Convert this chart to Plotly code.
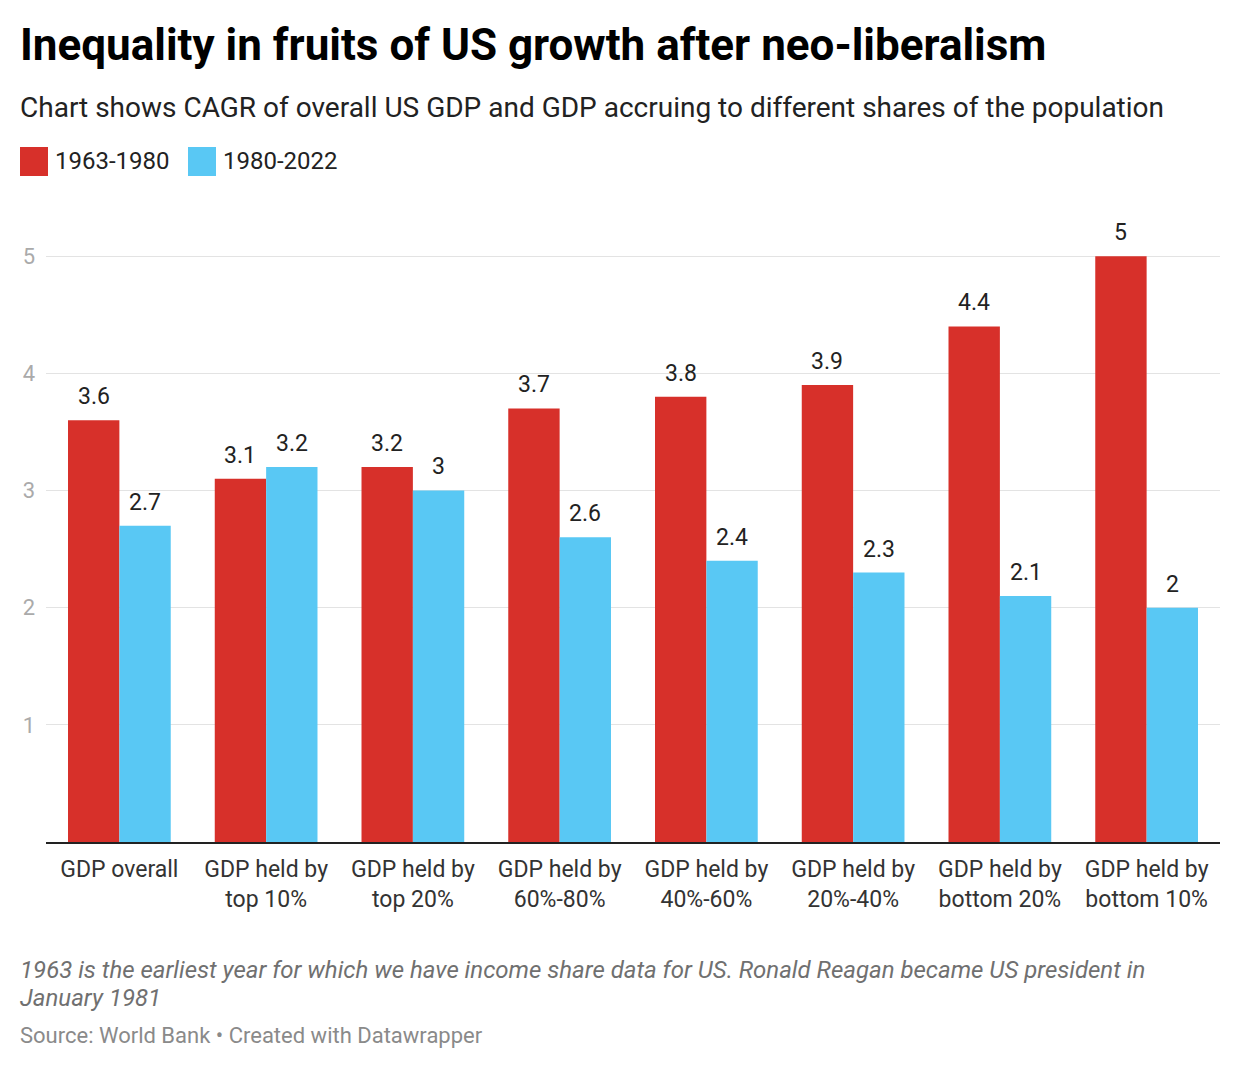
import plotly.graph_objects as go

categories = ["GDP overall", "GDP held by<br>top 10%", "GDP held by<br>top 20%", "GDP held by<br>60%-80%",
              "GDP held by<br>40%-60%", "GDP held by<br>20%-40%", "GDP held by<br>bottom 20%", "GDP held by<br>bottom 10%"]
series_names = ["1963-1980", "1980-2022"]
values_1963_1980 = [3.6, 3.1, 3.2, 3.7, 3.8, 3.9, 4.4, 5.0]
values_1980_2022 = [2.7, 3.2, 3.0, 2.6, 2.4, 2.3, 2.1, 2.0]
y_ticks = [1, 2, 3, 4, 5]

RED = "#d7302a"
BLUE = "#59c8f4"
FONT = "Roboto"

W, H = 1240, 1068
L, R, T, B = 46, 20, 221, 226
PW, PH = W - L - R, H - T - B


def px(xp):
    return (xp - L) / PW


def py(yp):
    return (H - B - yp) / PH


def fmt(v):
    return ("%g" % v)


fig = go.Figure()
fig.add_trace(go.Bar(x=categories, y=values_1963_1980, name=series_names[0], marker_color=RED,
                     marker_line_width=0, showlegend=False))
fig.add_trace(go.Bar(x=categories, y=values_1980_2022, name=series_names[1], marker_color=BLUE,
                     marker_line_width=0, showlegend=False))

annotations = []
half = PW / len(categories) * 0.7 / 4
for c, v in zip(categories, values_1963_1980):
    annotations.append(dict(x=c, y=v, xref="x", yref="y", text=fmt(v), showarrow=False,
                            xshift=-half, yshift=8, yanchor="bottom",
                            font=dict(family=FONT, size=23, color="#222")))
for c, v in zip(categories, values_1980_2022):
    annotations.append(dict(x=c, y=v, xref="x", yref="y", text=fmt(v), showarrow=False,
                            xshift=half, yshift=8, yanchor="bottom",
                            font=dict(family=FONT, size=23, color="#222")))

# Title, subtitle
annotations.append(dict(x=px(18), y=py(45), xref="paper", yref="paper", xanchor="left", yanchor="middle",
                        text="<b>Inequality in fruits of US growth after neo-liberalism</b>", showarrow=False,
                        font=dict(family=FONT, size=44, color="#000")))
annotations.append(dict(x=px(18), y=py(107), xref="paper", yref="paper", xanchor="left", yanchor="middle",
                        text="Chart shows CAGR of overall US GDP and GDP accruing to different shares of the population",
                        showarrow=False, font=dict(family=FONT, size=28, color="#222")))
# Legend
shapes = []
for i, (name, col, sx) in enumerate([(series_names[0], RED, 20), (series_names[1], BLUE, 188)]):
    shapes.append(dict(type="rect", xref="paper", yref="paper", x0=px(sx), x1=px(sx + 28),
                       y0=py(176), y1=py(147), fillcolor=col, line_width=0))
    annotations.append(dict(x=px(sx + 33), y=py(161), xref="paper", yref="paper", xanchor="left",
                            yanchor="middle", text=name, showarrow=False,
                            font=dict(family=FONT, size=24, color="#222")))
# Notes
note_lines = ["1963 is the earliest year for which we have income share data for US. Ronald Reagan became US president in",
              "January 1981"]
for line, yc in zip(note_lines, [970, 998]):
    annotations.append(dict(x=px(18), y=py(yc), xref="paper", yref="paper", xanchor="left", yanchor="middle",
                            text="<i>" + line + "</i>", showarrow=False,
                            font=dict(family=FONT, size=24, color="#707070")))
annotations.append(dict(x=px(18), y=py(1035), xref="paper", yref="paper", xanchor="left", yanchor="middle",
                        text="Source: World Bank • Created with Datawrapper", showarrow=False,
                        font=dict(family=FONT, size=22, color="#8a8a8a")))

fig.update_layout(
    width=W, height=H,
    margin=dict(l=L, r=R, t=T, b=B, autoexpand=False),
    paper_bgcolor="white", plot_bgcolor="white",
    barmode="group", bargap=0.3, bargroupgap=0,
    annotations=annotations, shapes=shapes,
    font=dict(family=FONT),
    xaxis=dict(type="category", range=[-0.5, len(categories) - 0.5], showgrid=False,
               showline=True, linecolor="#222", linewidth=2, ticks="", ticklabelstandoff=5,
               tickfont=dict(family=FONT, size=23, color="#333"), fixedrange=True),
    yaxis=dict(range=[0, 5.3], tickvals=y_ticks, showgrid=True, gridcolor="#e3e3e3", gridwidth=1,
               zeroline=False, showline=False, ticks="", ticklabelstandoff=10,
               tickfont=dict(family=FONT, size=22, color="#aaaaaa"), fixedrange=True),
)

fig.write_html("out.html")
